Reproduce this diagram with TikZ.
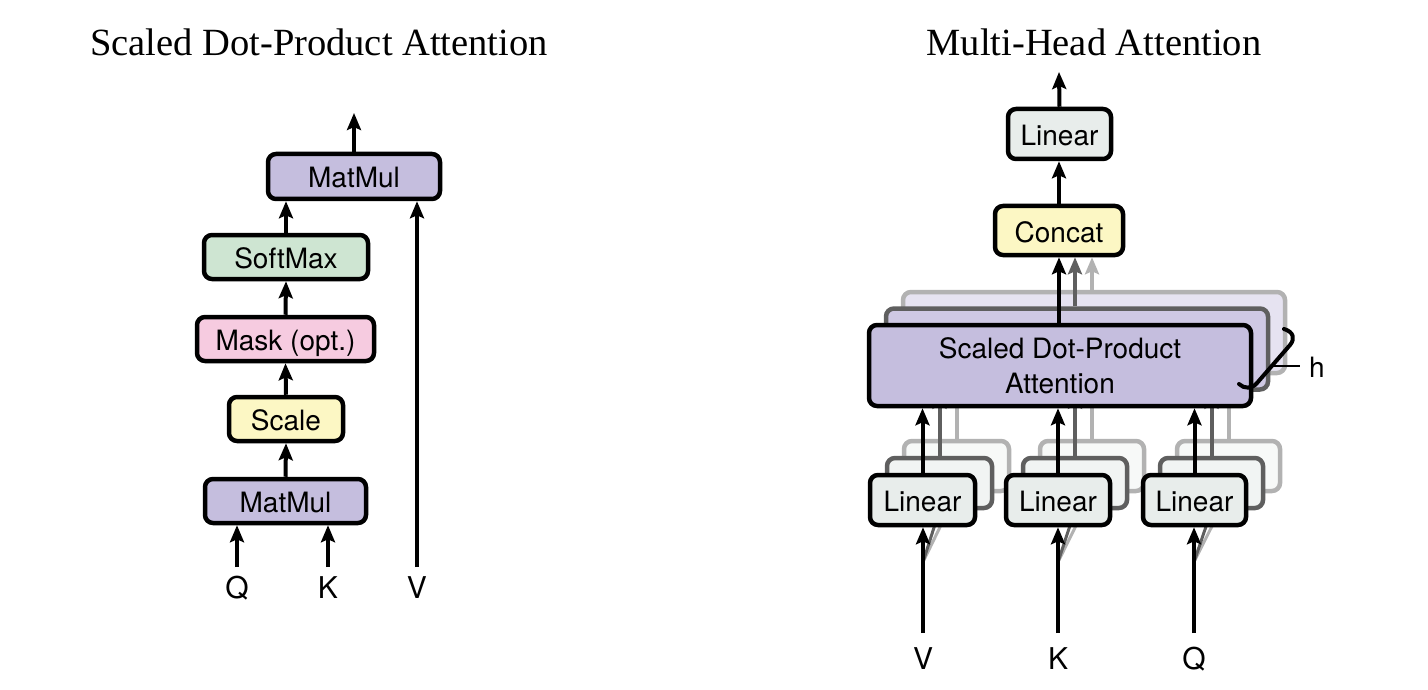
\documentclass[tikz,border=0pt]{standalone}
\usepackage{fontspec}
\setmainfont{Liberation Serif}
\newfontfamily\hv{TeX Gyre Heros}
\usetikzlibrary{arrows.meta}
\definecolor{lav}{RGB}{197,190,222}
\definecolor{lav2}{RGB}{207,201,228}
\definecolor{lav3}{RGB}{230,227,241}
\definecolor{smgreen}{RGB}{206,229,210}
\definecolor{mpink}{RGB}{246,203,224}
\definecolor{syellow}{RGB}{252,247,196}
\definecolor{lgrey}{RGB}{232,237,235}
\definecolor{lgrey2}{RGB}{241,244,243}
\definecolor{lgrey3}{RGB}{247,249,248}
\definecolor{edgeB}{RGB}{95,95,95}
\definecolor{edgeC}{RGB}{178,178,178}
\begin{document}
\begin{tikzpicture}[x=1pt,y=-1pt,
  box/.style={draw=black, line width=4.5pt, rounded corners=8pt,
    font=\hv\fontsize{28}{34}\selectfont, inner sep=0pt,
    text height=23pt, text depth=0pt},
  boxB/.style={box, draw=edgeB},
  boxC/.style={box, draw=edgeC},
  arr/.style={line width=4pt, -{Stealth[length=17pt,width=14pt,inset=3pt]}},
  arrB/.style={arr, draw=edgeB},
  arrC/.style={arr, draw=edgeC},
  lbl/.style={font=\hv\fontsize{30}{36}\selectfont, anchor=base, inner sep=0pt},
  ttl/.style={font=\fontsize{38.5}{46}\selectfont, anchor=base, inner sep=0pt}]
\useasboundingbox (0,0) rectangle (1428,690);

% ---------------- titles ----------------
\node[ttl] (t1) at (319,56) {Scaled Dot-Product Attention};
\node[ttl] (t2) at (1094,56) {Multi-Head Attention};

% ---------------- left: scaled dot-product attention ----------------
\node[box, fill=lav, minimum width=172pt, minimum height=45pt] (mm2) at (354,176.5) {MatMul};
\node[box, fill=smgreen, minimum width=164pt, minimum height=44pt] (sm) at (286,257) {SoftMax};
\node[box, fill=mpink, minimum width=177pt, minimum height=44pt] (mask) at (285.5,339) {Mask (opt.)};
\node[box, fill=syellow, minimum width=114pt, minimum height=44pt] (scale) at (286,419) {Scale};
\node[box, fill=lav, minimum width=161pt, minimum height=44pt] (mm1) at (285.5,501) {MatMul};

\node[lbl] (q1) at (237,598) {Q};
\node[lbl] (k1) at (328,598) {K};
\node[lbl] (v1) at (417,598) {V};
\coordinate (q1s) at (237,567);
\coordinate (k1s) at (328,567);
\coordinate (v1s) at (417,567);
\coordinate (out1) at (354,113);

\draw[arr] (q1s) -- (q1s |- mm1.south);
\draw[arr] (k1s) -- (k1s |- mm1.south);
\draw[arr] (v1s) -- (v1s |- mm2.south);
\draw[arr] (mm1.north) -- (scale.south);
\draw[arr] (scale.north) -- (mask.south);
\draw[arr] (mask.north) -- (sm.south);
\draw[arr] (sm.north) -- (sm.north |- mm2.south);
\draw[arr] (mm2.north) -- (out1);

% ---------------- right: multi-head attention ----------------
% back copies (third layer)
\node[boxC, fill=lav3, minimum width=382pt, minimum height=81pt] (sdpaC) at (1094,332.5) {};
\node[boxC, fill=lgrey3, minimum width=105pt, minimum height=50pt] (l1C) at (956.5,466) {};
\node[boxC, fill=lgrey3, minimum width=104pt, minimum height=50pt] (l2C) at (1092,466) {};
\node[boxC, fill=lgrey3, minimum width=103pt, minimum height=50pt] (l3C) at (1228.5,466) {};
% second layer
\node[boxB, fill=lav2, minimum width=382pt, minimum height=81pt] (sdpaB) at (1077,349) {};
\node[boxB, fill=lgrey2, minimum width=105pt, minimum height=50pt] (l1B) at (939.5,483) {};
\node[boxB, fill=lgrey2, minimum width=104pt, minimum height=50pt] (l2B) at (1075,483) {};
\node[boxB, fill=lgrey2, minimum width=103pt, minimum height=50pt] (l3B) at (1211.5,483) {};

% connectors of the copies
\coordinate (vin) at (923,633);
\coordinate (kin) at (1058,633);
\coordinate (qin) at (1194,633);
\coordinate (vbr) at (923,562);
\coordinate (kbr) at (1058,562);
\coordinate (qbr) at (1194,562);
\draw[line width=3pt, edgeC] (vbr) -- (l1C.south);
\draw[line width=3pt, edgeC] (kbr) -- (l2C.south);
\draw[line width=3pt, edgeC] (qbr) -- (l3C.south);
\draw[line width=3pt, edgeB] (vbr) -- (l1B.south);
\draw[line width=3pt, edgeB] (kbr) -- (l2B.south);
\draw[line width=3pt, edgeB] (qbr) -- (l3B.south);
\draw[arrC] (l1C.north) -- (l1C.north |- sdpaC.south);
\draw[arrC] (l2C.north) -- (l2C.north |- sdpaC.south);
\draw[arrC] (l3C.north) -- (l3C.north |- sdpaC.south);
\draw[arrB] (l1B.north) -- (l1B.north |- sdpaB.south);
\draw[arrB] (l2B.north) -- (l2B.north |- sdpaB.south);
\draw[arrB] (l3B.north) -- (l3B.north |- sdpaB.south);

% front layer
\node[box, fill=lav, minimum width=382pt, minimum height=81pt, align=center, text height=, text depth=,
  font=\hv\fontsize{28}{35}\selectfont]
  (sdpa) at (1060,365.5) {Scaled Dot-Product\\Attention};
\node[box, fill=lgrey, minimum width=105pt, minimum height=50pt] (l1) at (922.5,500) {Linear};
\node[box, fill=lgrey, minimum width=104pt, minimum height=50pt] (l2) at (1058,500) {Linear};
\node[box, fill=lgrey, minimum width=103pt, minimum height=50pt] (l3) at (1194.5,500) {Linear};
\node[box, fill=syellow, minimum width=128pt, minimum height=49pt] (concat) at (1059,230.5) {Concat};
\node[box, fill=lgrey, minimum width=103pt, minimum height=50pt] (lin) at (1059.5,134) {Linear};
\coordinate (out2) at (1059,72);

\draw[arr] (vin) -- (vin |- l1.south);
\draw[arr] (kin) -- (kin |- l2.south);
\draw[arr] (qin) -- (qin |- l3.south);
\draw[arr] (l1.north) -- (l1.north |- sdpa.south);
\draw[arr] (l2.north) -- (l2.north |- sdpa.south);
\draw[arr] (l3.north) -- (l3.north |- sdpa.south);
\coordinate (cB) at (1075,0);
\coordinate (cC) at (1092,0);
\draw[arrC] (cC |- sdpaC.north) -- (cC |- concat.south);
\draw[arrB] (cB |- sdpaB.north) -- (cB |- concat.south);
\draw[arr] (1059,0 |- sdpa.north) -- (1059,0 |- concat.south);
\draw[arr] (concat.north) -- (concat.north |- lin.south);
\draw[arr] (lin.north) -- (out2);

% h brace
\draw[line width=4pt, line cap=round, line join=round]
  (1284,329) .. controls (1294,332) and (1295,339) .. (1290,345)
  -- (1257,383) .. controls (1252,389) and (1244,389) .. (1239,384);
\draw[line width=2.5pt] (1273,366) -- (1300,366);
\node[font=\hv\fontsize{28}{34}\selectfont, anchor=west, inner sep=0pt] (h) at (1309,367) {h};

% labels
\node[lbl] (v2) at (923,669) {V};
\node[lbl] (k2) at (1058,669) {K};
\node[lbl] (q2) at (1194,669) {Q};
\end{tikzpicture}
\end{document}
